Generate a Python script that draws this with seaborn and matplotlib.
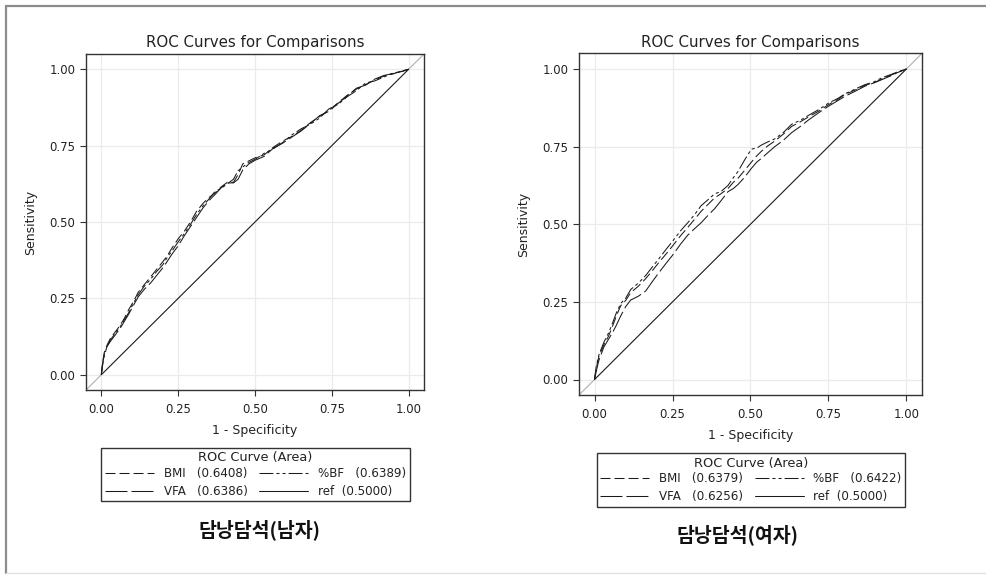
import numpy as np
import pandas as pd
import matplotlib
matplotlib.use("Agg")
import matplotlib.pyplot as plt
from matplotlib.lines import Line2D
import seaborn as sns

# ---- data -------------------------------------------------------------
models = ["BMI", "%BF", "VFA"]

# Male panel
male_bmi_x = [0, 0.004, 0.010, 0.020, 0.030, 0.045, 0.060, 0.075, 0.090, 0.105, 0.120, 0.140,
              0.160, 0.180, 0.200, 0.215, 0.230, 0.250, 0.270, 0.290, 0.310, 0.330, 0.350, 0.370,
              0.390, 0.410, 0.430, 0.445, 0.460, 0.480, 0.500, 0.530, 0.560, 0.590, 0.620, 0.650,
              0.680, 0.710, 0.740, 0.770, 0.800, 0.830, 0.860, 0.890, 0.920, 0.950, 0.980, 1.000]
male_bmi_y = [0, 0.040, 0.075, 0.100, 0.120, 0.140, 0.160, 0.185, 0.215, 0.240, 0.270, 0.295,
              0.320, 0.345, 0.370, 0.390, 0.415, 0.445, 0.470, 0.500, 0.535, 0.560, 0.580, 0.595,
              0.615, 0.630, 0.630, 0.655, 0.690, 0.700, 0.710, 0.720, 0.745, 0.765, 0.780, 0.800,
              0.825, 0.845, 0.865, 0.890, 0.915, 0.935, 0.950, 0.965, 0.978, 0.985, 0.995, 1.000]
male_bf_x = male_bmi_x
male_bf_y = [0, 0.030, 0.065, 0.095, 0.115, 0.135, 0.155, 0.180, 0.205, 0.235, 0.262, 0.290,
             0.312, 0.338, 0.360, 0.385, 0.405, 0.435, 0.462, 0.492, 0.525, 0.552, 0.575, 0.600,
             0.610, 0.625, 0.640, 0.668, 0.680, 0.695, 0.705, 0.725, 0.740, 0.760, 0.785, 0.805,
             0.820, 0.840, 0.870, 0.885, 0.910, 0.930, 0.955, 0.962, 0.975, 0.988, 0.993, 1.000]
male_vfa_x = male_bmi_x
male_vfa_y = [0, 0.035, 0.070, 0.095, 0.110, 0.130, 0.150, 0.175, 0.200, 0.228, 0.255, 0.280,
              0.300, 0.325, 0.350, 0.372, 0.395, 0.422, 0.455, 0.485, 0.515, 0.545, 0.570, 0.590,
              0.612, 0.628, 0.628, 0.640, 0.670, 0.690, 0.702, 0.715, 0.742, 0.758, 0.778, 0.798,
              0.822, 0.848, 0.862, 0.888, 0.912, 0.938, 0.948, 0.968, 0.980, 0.986, 0.994, 1.000]
male_auc = {"BMI": "0.6408", "%BF": "0.6389", "VFA": "0.6386", "ref": "0.5000"}

# Female panel
female_bmi_x = [0, 0.005, 0.014, 0.030, 0.045, 0.057, 0.070, 0.084, 0.100, 0.116, 0.140, 0.164,
                0.185, 0.207, 0.230, 0.250, 0.275, 0.299, 0.320, 0.342, 0.365, 0.385, 0.405, 0.428,
                0.445, 0.460, 0.480, 0.503, 0.520, 0.535, 0.555, 0.578, 0.605, 0.632, 0.660, 0.685,
                0.720, 0.750, 0.780, 0.803, 0.835, 0.868, 0.895, 0.922, 0.950, 0.975, 1.000]
female_bmi_y = [0, 0.035, 0.075, 0.112, 0.140, 0.170, 0.205, 0.238, 0.255, 0.280, 0.300, 0.325,
                0.350, 0.378, 0.405, 0.430, 0.462, 0.490, 0.515, 0.542, 0.565, 0.585, 0.598, 0.615,
                0.635, 0.648, 0.672, 0.700, 0.720, 0.735, 0.752, 0.768, 0.790, 0.815, 0.830, 0.845,
                0.865, 0.885, 0.902, 0.918, 0.932, 0.948, 0.955, 0.968, 0.980, 0.990, 1.000]
female_bf_x = female_bmi_x
female_bf_y = [0, 0.040, 0.080, 0.120, 0.150, 0.180, 0.215, 0.245, 0.262, 0.290, 0.310, 0.335,
               0.362, 0.390, 0.420, 0.445, 0.478, 0.505, 0.530, 0.560, 0.580, 0.598, 0.605, 0.625,
               0.650, 0.670, 0.705, 0.742, 0.745, 0.755, 0.765, 0.775, 0.795, 0.822, 0.835, 0.850,
               0.870, 0.890, 0.905, 0.920, 0.935, 0.950, 0.958, 0.972, 0.982, 0.992, 1.000]
female_vfa_x = female_bmi_x
female_vfa_y = [0, 0.025, 0.062, 0.105, 0.130, 0.150, 0.175, 0.205, 0.235, 0.256, 0.268, 0.285,
                0.315, 0.345, 0.375, 0.400, 0.435, 0.465, 0.485, 0.505, 0.530, 0.550, 0.575, 0.605,
                0.615, 0.628, 0.650, 0.680, 0.700, 0.712, 0.730, 0.750, 0.770, 0.795, 0.815, 0.835,
                0.860, 0.880, 0.898, 0.912, 0.928, 0.945, 0.955, 0.966, 0.978, 0.990, 1.000]
female_auc = {"BMI": "0.6379", "%BF": "0.6422", "VFA": "0.6256", "ref": "0.5000"}

ref_x = [0, 1]
ref_y = [0, 1]

tick_vals = [0.0, 0.25, 0.5, 0.75, 1.0]
tick_labels = ["0.00", "0.25", "0.50", "0.75", "1.00"]
panel_captions = ["담낭담석(남자)", "담낭담석(여자)"]
plot_title = "ROC Curves for Comparisons"

# ---- style ------------------------------------------------------------
sns.set_style("white")
plt.rcParams["font.family"] = ["DejaVu Sans"]
plt.rcParams["lines.scale_dashes"] = False

dash_styles = {
    "BMI": (7.2, 2.9),
    "%BF": (10.0, 2.2, 2.2, 2.2, 2.2, 2.2),
    "VFA": (15.8, 2.9),
}
LW = 0.75
INK = "#1a1a1a"
TXT = "#222222"


def build_frame(series):
    rows = []
    for name, xs, ys in series:
        for i, (x, y) in enumerate(zip(xs, ys)):
            rows.append({"model": name, "fpr": x, "tpr": y, "step": i})
    return pd.DataFrame(rows)


def draw_panel(ax, df, auc, leg_center):
    ax.set_xlim(-0.05, 1.05)
    ax.set_ylim(-0.05, 1.05)
    ax.grid(True, color="#ebebeb", lw=0.9)
    ax.set_axisbelow(True)
    # full-extent light diagonal
    ax.axline((0, 0), (1, 1), color="#b0b0b0", lw=0.8, zorder=1)
    sns.lineplot(data=df, x="fpr", y="tpr", style="model", dashes=dash_styles,
                 color=INK, lw=LW, sort=False, estimator=None, legend=False, ax=ax,
                 zorder=3)
    sns.lineplot(x=ref_x, y=ref_y, color=INK, lw=0.7, ax=ax, zorder=2)
    ax.set_xticks(tick_vals, tick_labels)
    ax.set_yticks(tick_vals, tick_labels)
    ax.tick_params(axis="both", direction="out", length=4, width=0.8,
                   colors="#333333", labelsize=8.4, labelcolor=TXT,
                   bottom=True, left=True, top=False, right=False)
    ax.tick_params(axis="x", pad=5)
    for s in ax.spines.values():
        s.set_color("#333333")
        s.set_linewidth(1.0)
    ax.set_title(plot_title, fontsize=10.8, color=TXT, pad=5)
    ax.set_xlabel("1 - Specificity", fontsize=9, color=TXT, labelpad=6)
    ax.set_ylabel("Sensitivity", fontsize=9, color=TXT, labelpad=9)

    handles = [
        Line2D([], [], color=INK, lw=LW, dashes=dash_styles["BMI"]),
        Line2D([], [], color=INK, lw=LW, dashes=dash_styles["VFA"]),
        Line2D([], [], color=INK, lw=LW, dashes=dash_styles["%BF"]),
        Line2D([], [], color=INK, lw=LW),
    ]
    labels = [
        f"BMI   ({auc['BMI']})",
        f"VFA   ({auc['VFA']})",
        f"%BF   ({auc['%BF']})",
        f"ref  ({auc['ref']})",
    ]
    leg = ax.legend(handles, labels, title="ROC Curve (Area)", ncol=2,
                    loc="center", bbox_to_anchor=leg_center,
                    bbox_transform=ax.figure.transFigure,
                    fontsize=8.6, title_fontsize=9.3, frameon=True, fancybox=False,
                    edgecolor="#333333", framealpha=1, handlelength=4.1,
                    handletextpad=0.8, columnspacing=1.0, labelspacing=0.42,
                    borderpad=0.3, borderaxespad=0)
    leg.get_frame().set_linewidth(1.0)
    leg._legend_box.sep = 2
    for t in leg.get_texts():
        t.set_color(TXT)
    leg.get_title().set_color(TXT)


fig = plt.figure(figsize=(9.87, 5.75), dpi=100)

male_df = build_frame([("BMI", male_bmi_x, male_bmi_y),
                       ("%BF", male_bf_x, male_bf_y),
                       ("VFA", male_vfa_x, male_vfa_y)])
female_df = build_frame([("BMI", female_bmi_x, female_bmi_y),
                         ("%BF", female_bf_x, female_bf_y),
                         ("VFA", female_vfa_x, female_vfa_y)])

ax1 = fig.add_axes([0.0871, 0.3217, 0.3425, 0.5844])
ax2 = fig.add_axes([0.5866, 0.3130, 0.3475, 0.5940])
draw_panel(ax1, male_df, male_auc, (0.2589, 0.1748))
draw_panel(ax2, female_df, female_auc, (0.7609, 0.1652))

cap_fonts = ["Noto Sans CJK KR", "DejaVu Sans"]
fig.text(0.2634, 1 - 530 / 575, panel_captions[0], ha="center", va="center",
         fontsize=14, fontweight="bold", family=cap_fonts, color="#111111")
fig.text(0.7477, 1 - 535 / 575, panel_captions[1], ha="center", va="center",
         fontsize=14, fontweight="bold", family=cap_fonts, color="#111111")

# surrounding frame lines
fig.add_artist(Line2D([6 / 987, 1], [1 - 5.5 / 575] * 2, transform=fig.transFigure,
                      color="#8c8c8c", lw=1.6))
fig.add_artist(Line2D([6.3 / 987] * 2, [1 - 5.5 / 575, 1 - 573 / 575],
                      transform=fig.transFigure, color="#8c8c8c", lw=1.6))
fig.add_artist(Line2D([6 / 987, 1], [1 - 573 / 575] * 2, transform=fig.transFigure,
                      color="#e2e2e2", lw=1.0))

fig.savefig("out.png", dpi=100, facecolor="white")
